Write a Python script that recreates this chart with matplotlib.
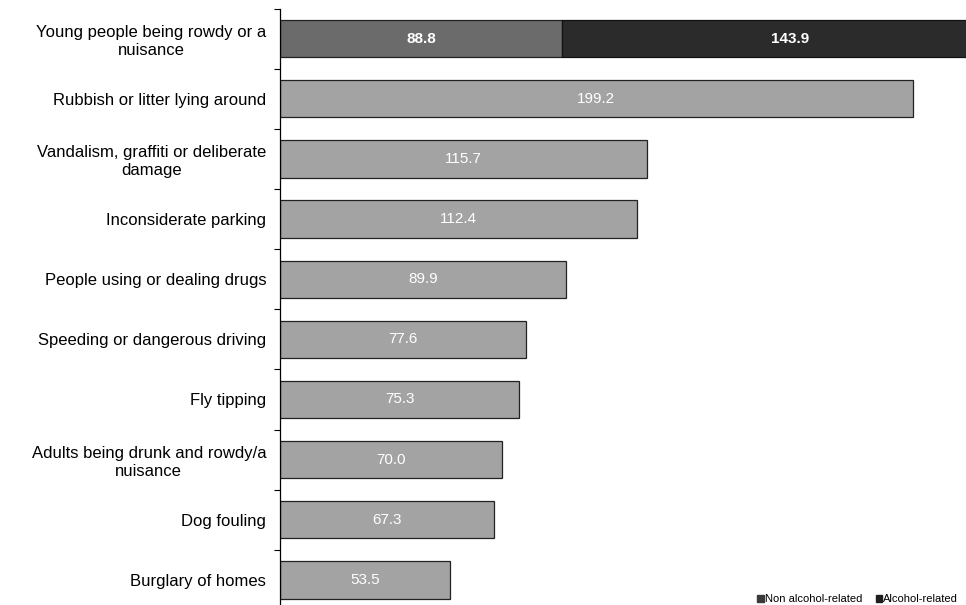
import numpy as np
import matplotlib.pyplot as plt
from matplotlib.patches import Patch

plt.rcParams['font.family'] = ['Liberation Sans', 'DejaVu Sans']

categories = ['Young people being rowdy or a\nnuisance',
              'Rubbish or litter lying around',
              'Vandalism, graffiti or deliberate\ndamage',
              'Inconsiderate parking',
              'People using or dealing drugs',
              'Speeding or dangerous driving',
              'Fly tipping',
              'Adults being drunk and rowdy/a\nnuisance',
              'Dog fouling',
              'Burglary of homes']
non_alcohol = [88.8, 199.2, 115.7, 112.4, 89.9, 77.6, 75.3, 70.0, 67.3, 53.5]
alcohol = [143.9, 0, 0, 0, 0, 0, 0, 0, 0, 0]

fig = plt.figure(figsize=(9.66, 6.05), dpi=100)
ax = fig.add_axes([0.2899, -0.0083, 0.7101, 0.9942])

y = np.arange(len(categories))
first_col = ['#6b6b6b'] + ['#a3a3a3'] * (len(categories) - 1)
ax.barh(y, non_alcohol, height=0.62, color=first_col, edgecolor='#222222', linewidth=0.9)
ax.barh(y[:1], alcohol[:1], left=non_alcohol[:1], height=0.62, color='#2b2b2b',
        edgecolor='#111111', linewidth=0.9)

for i, v in enumerate(non_alcohol):
    ax.text(v / 2, i, f'{v:.1f}', color='white', ha='center', va='center',
            fontsize=11, fontweight='bold' if i == 0 else 'normal')
ax.text(non_alcohol[0] + alcohol[0] / 2, 0, f'{alcohol[0]:.1f}', color='white',
        ha='center', va='center', fontsize=11, fontweight='bold')

ax.set_xlim(0, 216)
ax.set_ylim(9.5, -0.5)
ax.set_yticks(y)
ax.set_yticklabels(categories, fontsize=12, linespacing=1.2)
for t in ax.get_yticklabels():
    t.set_multialignment('center')
ax.tick_params(axis='y', which='major', length=0, pad=10)
ax.set_yticks(np.arange(-0.5, 10, 1), minor=True)
ax.tick_params(axis='y', which='minor', length=4, width=0.8, direction='out')
ax.set_xticks([])
for s in ['top', 'right', 'bottom']:
    ax.spines[s].set_visible(False)
ax.spines['left'].set_linewidth(0.9)

handles = [Patch(color='#3a3a3a', label='Non alcohol-related'),
           Patch(color='#1e1e1e', label='Alcohol-related')]
fig.legend(handles=handles, loc='lower right', bbox_to_anchor=(1.0, -0.012), ncol=2,
           frameon=False, fontsize=8, handlelength=0.6, handleheight=0.6,
           handletextpad=0.1, columnspacing=1.2, borderaxespad=0.3)

fig.savefig('out.png', dpi=100)
